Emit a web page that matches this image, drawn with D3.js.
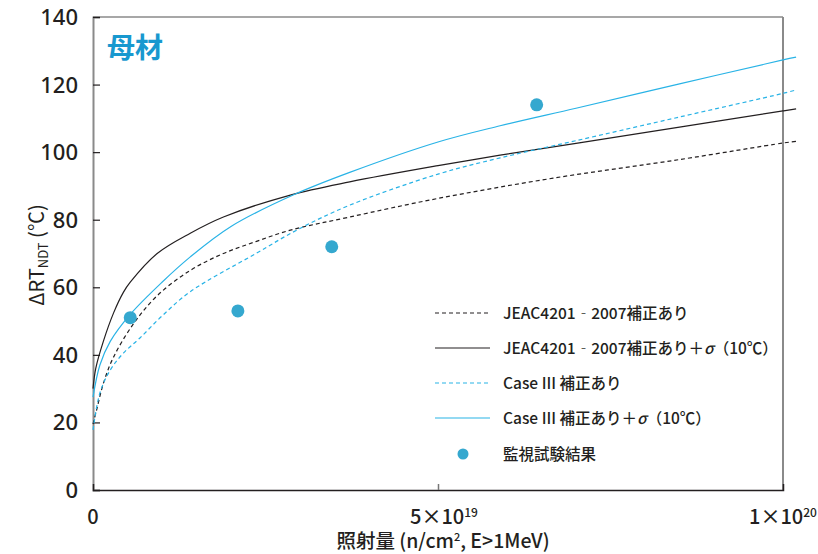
<!DOCTYPE html>
<html>
<head>
<meta charset="utf-8">
<script src="https://cdn.jsdelivr.net/npm/d3@7"></script>
<style>
  html, body { margin: 0; padding: 0; background: #fff; }
  svg { display: block; }
  text { font-family: "Noto Sans CJK JP", "Noto Sans", sans-serif; fill: #231f20; }
  text.num { font-family: "Noto Sans", sans-serif; }
</style>
</head>
<body>
<svg id="chart" width="818" height="554"></svg>
<script>
// Fluence in units of 1e19 n/cm² (E>1MeV), ΔRT_NDT in °C
const jeacFluence      = [0, 0.05, 0.15, 0.29, 0.58, 0.93, 1.41, 1.89, 2.37, 2.86, 3.72, 5.0, 6.67, 8.5, 10.0, 10.19];
const jeacShift        = [19.5, 23.5, 31.5, 39, 49, 57.5, 65, 70, 73.6, 76.9, 80.8, 86.3, 92.3, 97.8, 102.7, 103.2];

const jeacSigmaFluence = [0, 0.04, 0.15, 0.3, 0.44, 0.54, 0.93, 1.41, 1.89, 2.86, 3.72, 5.0, 5.9, 7.0, 8.5, 10.0, 10.19];
const jeacSigmaShift   = [30, 36, 44, 52.5, 58.5, 61.5, 70, 76, 80.8, 87.3, 91.2, 96, 99.1, 102.6, 107.4, 112.2, 112.8];

const case3Fluence     = [0, 0.1, 0.25, 0.44, 0.68, 1.0, 1.41, 2.37, 2.96, 3.72, 5.0, 5.9, 7.0, 8.5, 10.0, 10.19];
const case3Shift       = [17.8, 28.7, 35.5, 40.5, 45, 51.5, 58.7, 70.1, 77, 84.3, 93.5, 98.3, 103.4, 110.4, 117.4, 118.4];

const case3SigmaFluence = [0, 0.1, 0.25, 0.54, 1.0, 1.41, 2.0, 2.9, 3.72, 5.0, 5.9, 7.0, 8.5, 10.0, 10.19];
const case3SigmaShift   = [27.5, 37, 44, 52, 61.5, 69, 78, 87.3, 94, 103, 107.8, 113, 120.2, 127.3, 128.1];

const surveillanceFluence = [0.54, 2.1, 3.46, 6.43];
const surveillanceShift   = [51, 53, 72, 114];

const yTicks = [0, 20, 40, 60, 80, 100, 120, 140];
const xTickLabels = [
  { v: 0,  base: "0",    sup: "",   dx: 0 },
  { v: 5,  base: "5×10", sup: "19", dx: 6 },
  { v: 10, base: "1×10", sup: "20", dx: 0 }
];

const legendLabels = [
  "JEAC4201‐2007補正あり",
  "JEAC4201‐2007補正あり＋σ（10℃）",
  "Case III 補正あり",
  "Case III 補正あり＋σ（10℃）",
  "監視試験結果"
];

const BLACK = "#231f20";
const CYAN = "#29b3e6";
const DOT = "#35a8cf";

const svg = d3.select("#chart");
const margin = { left: 93, right: 783, top: 17, bottom: 490 };

const x = d3.scaleLinear().domain([0, 10]).range([margin.left, margin.right]);
const y = d3.scaleLinear().domain([0, 140]).range([margin.bottom, margin.top]);

// frame
svg.append("line").attr("x1", margin.left).attr("x2", margin.right)
  .attr("y1", margin.top).attr("y2", margin.top)
  .attr("stroke", "#8a8a8a").attr("stroke-width", 1.5);
svg.append("line").attr("x1", margin.right).attr("x2", margin.right)
  .attr("y1", margin.top).attr("y2", margin.bottom)
  .attr("stroke", "#8a8a8a").attr("stroke-width", 2);

// y axis (ticks pointing inward)
const yAxis = d3.axisRight(y).tickValues(yTicks).tickSize(7).tickFormat("");
const gy = svg.append("g").attr("transform", `translate(${margin.left},0)`).call(yAxis);
gy.select(".domain").attr("stroke", "#8a8a8a").attr("stroke-width", 2);
gy.selectAll(".tick line").attr("stroke", BLACK).attr("stroke-width", 1.2);

svg.append("g").selectAll("text").data(yTicks).join("text")
  .attr("class", "num")
  .attr("x", 78).attr("y", d => y(d) + 8)
  .attr("text-anchor", "end")
  .attr("font-size", 22).attr("font-weight", 500)
  .text(d => d);

// x axis (tick pointing up)
const xAxis = d3.axisTop(x).tickValues([5]).tickSize(6).tickFormat("");
const gx = svg.append("g").attr("transform", `translate(0,${margin.bottom})`).call(xAxis);
gx.select(".domain").attr("stroke", BLACK).attr("stroke-width", 1.5);
gx.selectAll(".tick line").attr("stroke", "#777").attr("stroke-width", 1.5);

const xl = svg.append("g").selectAll("text").data(xTickLabels).join("text")
  .attr("x", d => x(d.v) + d.dx).attr("y", 524)
  .attr("text-anchor", "middle")
  .attr("font-size", 20).attr("font-weight", 500);
xl.append("tspan").text(d => d.base);
xl.append("tspan").attr("dy", -7).attr("font-size", 12).text(d => d.sup);

// axis titles
const xt = svg.append("text").attr("x", 443).attr("y", 548)
  .attr("text-anchor", "middle").attr("font-size", 19.5).attr("font-weight", 500);
xt.append("tspan").text("照射量 (n/cm");
xt.append("tspan").attr("dy", -7).attr("font-size", 11).text("2");
xt.append("tspan").attr("dy", 7).text(", E>1MeV)");

const yt = svg.append("text")
  .attr("transform", "translate(44,255) rotate(-90)")
  .attr("text-anchor", "middle").attr("font-size", 20).attr("font-weight", 400);
yt.append("tspan").text("ΔRT");
yt.append("tspan").attr("dy", 4).attr("font-size", 13).text("NDT");
yt.append("tspan").attr("dy", -4).text(" (℃)");

// panel label
svg.append("text").attr("x", 107).attr("y", 58)
  .attr("font-size", 28).attr("font-weight", 700)
  .style("fill", "#1898cf").text("母材");

// curves
const line = d3.line().x(d => x(d[0])).y(d => y(d[1])).curve(d3.curveCatmullRom.alpha(0.5));
const series = [
  { f: jeacFluence,       v: jeacShift,       color: BLACK, dash: "4,3" },
  { f: jeacSigmaFluence,  v: jeacSigmaShift,  color: BLACK, dash: null },
  { f: case3Fluence,      v: case3Shift,      color: CYAN,  dash: "4,3" },
  { f: case3SigmaFluence, v: case3SigmaShift, color: CYAN,  dash: null }
];
svg.append("g").selectAll("path").data(series).join("path")
  .attr("d", s => line(s.f.map((f, i) => [f, s.v[i]])))
  .attr("fill", "none")
  .attr("stroke", s => s.color)
  .attr("stroke-width", 1.2)
  .attr("stroke-dasharray", s => s.dash);

// surveillance test results
svg.append("g").selectAll("circle").data(surveillanceFluence).join("circle")
  .attr("cx", d => x(d)).attr("cy", (d, i) => y(surveillanceShift[i]))
  .attr("r", 6.5).attr("fill", DOT);

// legend
const legendRows = [313, 348, 383, 418, 454];
const lg = svg.append("g");
series.forEach((s, i) => {
  lg.append("line").attr("x1", 435).attr("x2", 490)
    .attr("y1", legendRows[i]).attr("y2", legendRows[i])
    .attr("stroke", s.color).attr("stroke-width", 1.2)
    .attr("stroke-dasharray", s.dash);
});
lg.append("circle").attr("cx", 463).attr("cy", legendRows[4]).attr("r", 5.5).attr("fill", DOT);
const lt = lg.selectAll("text").data(legendLabels).join("text")
  .attr("x", 503).attr("y", (d, i) => legendRows[i] + 5.5)
  .attr("font-size", 15.5).attr("font-weight", 500);
// sigma set in italics
lt.each(function (d) {
  const t = d3.select(this);
  d.split("σ").forEach((part, k) => {
    if (k > 0) t.append("tspan").attr("font-style", "italic").text("σ");
    t.append("tspan").text(part);
  });
});
</script>
</body>
</html>
